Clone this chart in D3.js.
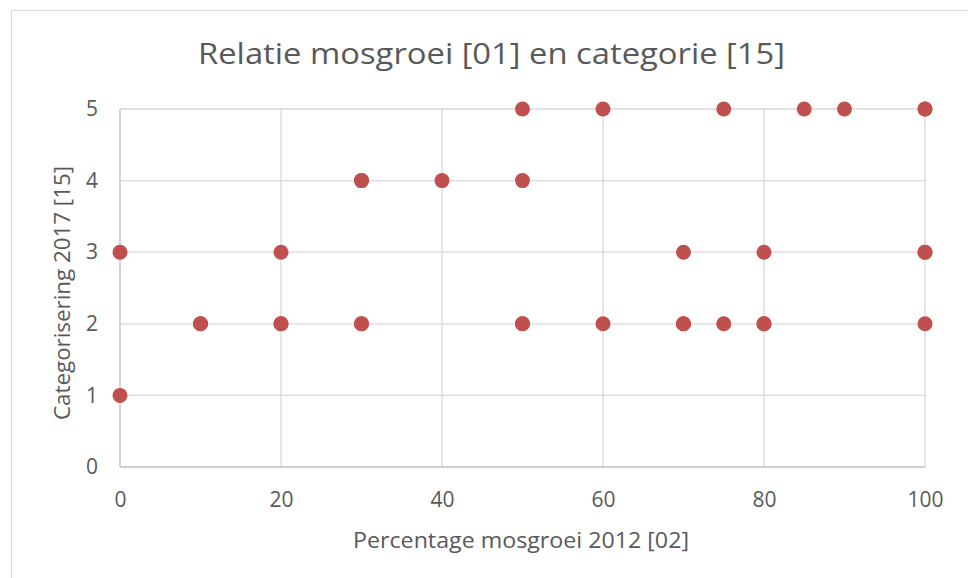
<!DOCTYPE html>
<html><head><meta charset="utf-8">
<script src="https://cdn.jsdelivr.net/npm/d3@7"></script>
<style>body{margin:0;background:#fff;} text{font-family:"Open Sans",sans-serif;fill:#595959;}</style>
</head><body><svg id="c" width="968" height="578"></svg>
<script>
const title = "Relatie mosgroei [01] en categorie [15]";
const xTitle = "Percentage mosgroei 2012 [02]";
const yTitle = "Categorisering 2017 [15]";
const xTicks = [0, 20, 40, 60, 80, 100];
const yTicks = [0, 1, 2, 3, 4, 5];
const xValues = [50,60,75,85,90,100,100, 30,30,40,50, 0,20,70,80,100,100, 10,10,20,20,30,30,50,50,60,70,70,75,80,80,100, 0];
const yValues = [5,5,5,5,5,5,5, 4,4,4,4, 3,3,3,3,3,3, 2,2,2,2,2,2,2,2,2,2,2,2,2,2,2, 1];

const svg = d3.select("#c");
svg.append("rect").attr("x",11.5).attr("y",10.5).attr("width",970).attr("height",580)
  .attr("fill","none").attr("stroke","#d9d9d9").attr("stroke-width",1);

const x = d3.scaleLinear().domain([0,100]).range([120,925]);
const y = d3.scaleLinear().domain([0,5]).range([467,109]);

const g = svg.append("g");
g.selectAll(".vg").data(xTicks.slice(1)).join("line")
  .attr("x1",d=>x(d)).attr("x2",d=>x(d)).attr("y1",y(0)).attr("y2",y(5))
  .attr("stroke","#d9d9d9").attr("stroke-width",1.3);
g.selectAll(".hg").data(yTicks.slice(1)).join("line")
  .attr("x1",x(0)).attr("x2",x(100)).attr("y1",d=>y(d)).attr("y2",d=>y(d))
  .attr("stroke","#d9d9d9").attr("stroke-width",1.3);
g.append("line").attr("x1",x(0)).attr("x2",x(0)).attr("y1",y(0)).attr("y2",y(5)).attr("stroke","#bfbfbf").attr("stroke-width",1.3);
g.append("line").attr("x1",x(0)).attr("x2",x(100)).attr("y1",y(0)).attr("y2",y(0)).attr("stroke","#bfbfbf").attr("stroke-width",1.3);

const xa = svg.append("g").attr("transform",`translate(0,${y(0)})`)
  .call(d3.axisBottom(x).tickValues(xTicks).tickSize(0).tickPadding(25).tickFormat(d3.format("d")));
xa.select(".domain").remove();
xa.selectAll("text").style("font-size","21px").attr("fill","#595959");
const ya = svg.append("g").attr("transform",`translate(${x(0)},0)`)
  .call(d3.axisLeft(y).tickValues(yTicks).tickSize(0).tickPadding(22).tickFormat(d3.format("d")));
ya.select(".domain").remove();
ya.selectAll("text").style("font-size","21px").attr("fill","#595959");

svg.append("text").attr("x",491.5).attr("y",64).attr("text-anchor","middle").style("font-size","29px")
  .attr("textLength",587).attr("lengthAdjust","spacingAndGlyphs").text(title);
svg.append("text").attr("x",521).attr("y",548).attr("text-anchor","middle").style("font-size","22px")
  .attr("textLength",336).attr("lengthAdjust","spacingAndGlyphs").text(xTitle);
svg.append("text").attr("transform","translate(70,293) rotate(-90)").attr("text-anchor","middle").style("font-size","22px")
  .attr("textLength",254).attr("lengthAdjust","spacingAndGlyphs").text(yTitle);

const pts = xValues.map((v,i)=>({x:v,y:yValues[i]}));
svg.append("g").selectAll("circle").data(pts).join("circle")
  .attr("cx",d=>x(d.x)).attr("cy",d=>y(d.y)).attr("r",7.5).attr("fill","#C0504D");
</script></body></html>
